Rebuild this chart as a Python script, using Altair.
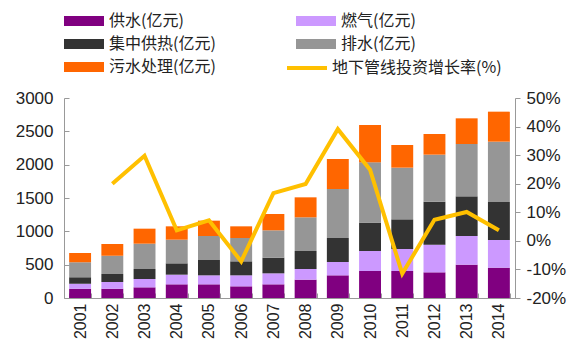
import altair as alt
import pandas as pd

years = ["2001", "2002", "2003", "2004", "2005", "2006", "2007",
         "2008", "2009", "2010", "2011", "2012", "2013", "2014"]
series = ["供水(亿元)", "燃气(亿元)", "集中供热(亿元)", "排水(亿元)", "污水处理(亿元)"]
colors = ["#800080", "#CC99FF", "#333333", "#969696", "#FF6600"]

water = [140, 140, 160, 205, 205, 175, 205, 275, 340, 405, 405, 385, 500, 455]
gas = [75, 100, 125, 145, 135, 165, 165, 160, 200, 300, 330, 415, 430, 415]
heat = [95, 120, 150, 170, 230, 210, 235, 270, 360, 425, 445, 645, 595, 570]
drain = [225, 275, 380, 355, 360, 350, 410, 505, 735, 905, 775, 705, 785, 905]
sewage = [140, 175, 225, 200, 230, 175, 245, 300, 450, 560, 340, 310, 385, 450]
growth = [None, 20.0, 29.8, 3.7, 7.2, -7.2, 16.7, 19.9, 39.1, 24.9, -11.5, 7.4, 10.1, 3.7]
line_name = "地下管线投资增长率(%)"

rows = []
for si, (name, vals) in enumerate(zip(series, [water, gas, heat, drain, sewage])):
    for y, v in zip(years, vals):
        rows.append({"year": y, "series": name, "value": v, "idx": si})
bars_df = pd.DataFrame(rows)
line_df = pd.DataFrame({"year": years, "rate": growth, "name": [line_name] * len(years)})

FONT = "Liberation Sans"
CJK = "Noto Sans CJK SC"

x_enc = alt.X("year:N", sort=years, title=None,
              scale=alt.Scale(paddingInner=0.32, paddingOuter=0.16),
              axis=alt.Axis(labelAngle=270, labelAlign="right", labelBaseline="middle",
                            labelFontSize=16, labelFont=FONT, labelColor="#222",
                            tickBand="extent", tickSize={"expr": "-5"}, labelPadding=10,
                            domainColor="#999", tickColor="#999"))

bars = alt.Chart(bars_df).mark_bar().encode(
    x=x_enc,
    y=alt.Y("value:Q", stack="zero", title=None,
            scale=alt.Scale(domain=[0, 3000], nice=False),
            axis=alt.Axis(values=[0, 500, 1000, 1500, 2000, 2500, 3000], grid=False,
                          format="d",
                          labelFontSize=17, labelFont=FONT, labelColor="#222",
                          tickSize={"expr": "-5"}, labelPadding=16,
                          domainColor="#999", tickColor="#999")),
    color=alt.Color("series:N", scale=alt.Scale(domain=series, range=colors),
                    legend=alt.Legend(orient="none", legendX=10, legendY=-87, columns=2,
                                      direction="horizontal",
                                      title=None, symbolType="M-2,-0.5H2V0.5H-2Z",
                                      symbolSize=400, symbolStrokeWidth=0,
                                      labelFontSize=16, labelFont=CJK, labelColor="#222",
                                      labelOffset=15, rowPadding=5, columnPadding=80,
                                      padding=0, labelLimit=300)),
    order=alt.Order("idx:Q", sort="ascending"),
)

line = alt.Chart(line_df).mark_line(strokeWidth=4, color="#FFC000").encode(
    x=alt.X("year:N", sort=years),
    y=alt.Y("rate:Q", title=None,
            scale=alt.Scale(domain=[-20, 50], nice=False),
            axis=alt.Axis(orient="right", values=[-20, -10, 0, 10, 20, 30, 40, 50], grid=False,
                          labelExpr="datum.value + '%'",
                          labelFontSize=17, labelFont=FONT, labelColor="#222",
                          tickSize=5, labelPadding=6,
                          domainColor="#999", tickColor="#999")),
    stroke=alt.Stroke("name:N", scale=alt.Scale(domain=[line_name], range=["#FFC000"]),
                      legend=alt.Legend(orient="none", legendX=221, legendY=-52,
                                        title=None, symbolType="stroke", symbolSize=1600,
                                        symbolStrokeWidth=4,
                                        labelFontSize=16, labelFont=CJK, labelColor="#222",
                                        labelOffset=3, padding=0, labelLimit=300)),
)

chart = alt.layer(bars, line).resolve_scale(
    y="independent", color="independent", stroke="independent"
).properties(
    width=451, height=200,
    autosize=alt.AutoSizeParams(type="none"),
    padding={"left": 56, "top": 90, "right": 53, "bottom": 50},
    background="white",
).configure_view(stroke=None)

chart.save("out.html", embed_options={"renderer": "svg", "actions": False})
